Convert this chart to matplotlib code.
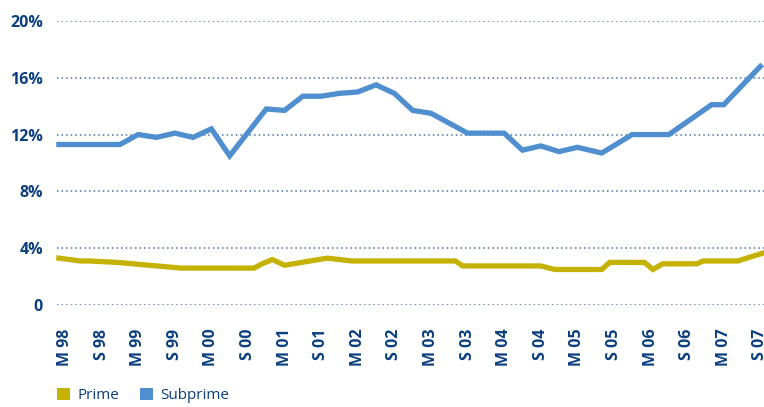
import matplotlib.pyplot as plt
from matplotlib.patches import Patch

# months counted from March 1998 (M 98 = 0)
subprime_month = [-1, 9, 12, 15, 18, 21, 24, 27, 33, 36, 39, 42, 45, 48, 51, 54,
                  57, 60, 66, 72, 75, 78, 81, 84, 88, 93, 99, 106, 108, 114]
subprime_rate = [11.3, 11.3, 12.0, 11.8, 12.1, 11.8, 12.4, 10.5, 13.8, 13.7, 14.7, 14.7,
                 14.9, 15.0, 15.5, 14.9, 13.7, 13.5, 12.1, 12.1, 10.9, 11.2, 10.8, 11.1,
                 10.7, 12.0, 12.0, 14.1, 14.1, 16.8]

prime_month = [-1, 2.5, 4, 8.5, 19, 31, 32.3, 34, 36, 43, 47, 64, 65.2, 78, 80.3, 88,
               89.3, 95, 96.4, 98, 103.6, 104.6, 110.3, 114.4]
prime_rate = [3.3, 3.1, 3.1, 3.0, 2.6, 2.6, 2.9, 3.2, 2.8, 3.3, 3.1, 3.1, 2.75, 2.75,
              2.5, 2.5, 3.0, 3.0, 2.5, 2.9, 2.9, 3.1, 3.1, 3.65]

tick_labels = ["M 98", "S 98", "M 99", "S 99", "M 00", "S 00", "M 01", "S 01", "M 02", "S 02",
               "M 03", "S 03", "M 04", "S 04", "M 05", "S 05", "M 06", "S 06", "M 07", "S 07"]
y_ticks = [0, 4, 8, 12, 16, 20]
y_labels = ["0", "4%", "8%", "12%", "16%", "20%"]

NAVY = "#0b3f7e"
BLUE = "#4f8fd0"
GOLD = "#c4b100"

fig = plt.figure(figsize=(7.64, 4.07), dpi=100)
ax = fig.add_axes([0.0746, 0.2506, 0.9254, 0.698])

ax.plot(prime_month, prime_rate, color=GOLD, lw=3.8, solid_joinstyle="miter", clip_on=False, zorder=3)
ax.plot(subprime_month, subprime_rate, color=BLUE, lw=3.8, solid_joinstyle="miter", clip_on=False, zorder=3)

ax.set_xlim(-1.31, 114.6)
ax.set_ylim(0, 20)
ax.set_yticks(y_ticks)
ax.set_yticklabels(y_labels)
ax.set_xticks(range(0, 6 * len(tick_labels), 6))
ax.set_xticklabels(tick_labels, rotation=90, va="top", ha="center")

for lab in ax.get_yticklabels() + ax.get_xticklabels():
    lab.set_family("Open Sans")
    lab.set_weight("bold")
    lab.set_color(NAVY)
    lab.set_fontsize(11.5)

ax.tick_params(axis="both", length=0)
ax.tick_params(axis="y", pad=10)
ax.tick_params(axis="x", pad=17)
ax.grid(axis="y", color="#4670a8", linestyle=(0, (1, 2)), lw=1.1)
ax.set_axisbelow(True)
for s in ax.spines.values():
    s.set_visible(False)

handles = [Patch(facecolor=GOLD, label="Prime"), Patch(facecolor=BLUE, label="Subprime")]
leg = fig.legend(handles=handles, loc="lower left", bbox_to_anchor=(0.057, -0.025), ncol=2,
                 frameon=False, handlelength=0.8, handleheight=0.8, handletextpad=0.5,
                 columnspacing=1.4, prop={"family": "Open Sans", "size": 11})
for t in leg.get_texts():
    t.set_color(NAVY)

fig.savefig("out.png", dpi=100)
